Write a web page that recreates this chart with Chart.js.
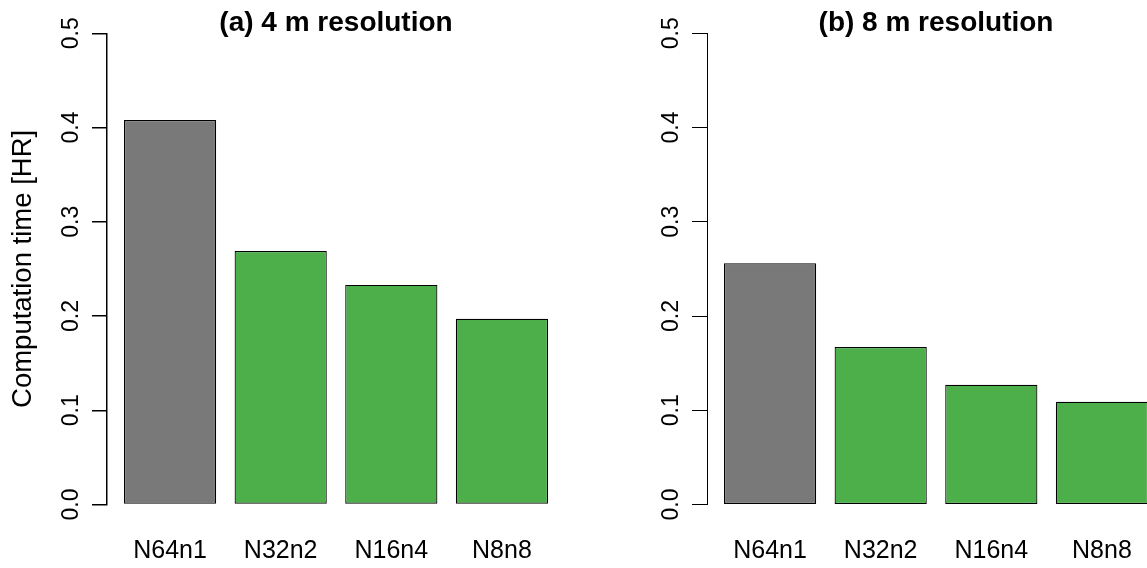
<!DOCTYPE html>
<html>
<head>
<meta charset="utf-8">
<script src="https://cdn.jsdelivr.net/npm/chart.js@4.4.1/dist/chart.umd.min.js"></script>
<style>
  html, body { margin: 0; padding: 0; background: #fff; overflow: hidden; width: 1147px; height: 568px; }
  #wrap { position: relative; width: 1147px; height: 568px; overflow: hidden; }
  canvas { position: absolute; top: 0; }
  #panelA { left: 0; }
  #panelB { left: 600px; }
</style>
</head>
<body>
<div id="wrap">
  <canvas id="panelA" width="565" height="568"></canvas>
  <canvas id="panelB" width="565" height="568"></canvas>
</div>
<script>
// Run configurations (nodes x processes per node)
const categories = ['N64n1', 'N32n2', 'N16n4', 'N8n8'];
// Computation time in hours
const time4m = [0.408, 0.269, 0.233, 0.197];
const time8m = [0.256, 0.167, 0.127, 0.109];
// Y axis tick values
const yTicks = [0.0, 0.1, 0.2, 0.3, 0.4, 0.5];
// Bar fills: baseline run in grey, the others in green
const barColors = ['#797979', '#4daf4a', '#4daf4a', '#4daf4a'];

const FONT = '"Liberation Sans", Arial, Helvetica, sans-serif';

// Bars of width 1 separated by 0.2, centres at 0.7, 1.9, 3.1, 4.3
const slot = i => 0.7 + 1.2 * i;
const slots = categories.map((_, i) => slot(i));
const xMin = 0.2 - 0.04 * 4.6;
const xMax = 4.8 + 0.04 * 4.6;

// Tick labels on the y axis drawn parallel to the axis
const rotatedYTicks = {
  id: 'rotatedYTicks',
  afterDraw(chart) {
    const ys = chart.scales.y;
    const ctx = chart.ctx;
    ctx.save();
    ctx.font = '23px ' + FONT;
    ctx.fillStyle = '#000';
    ctx.textAlign = 'center';
    ctx.textBaseline = 'alphabetic';
    ys.ticks.forEach(t => {
      const py = ys.getPixelForValue(t.value);
      ctx.save();
      ctx.translate(ys.right - 29.5, py);
      ctx.rotate(-Math.PI / 2);
      ctx.fillText(t.value.toFixed(1), 0, 0);
      ctx.restore();
    });
    ctx.restore();
  }
};

// Panel heading centred over the plotting region
const panelTitle = {
  id: 'panelTitle',
  afterDraw(chart, args, opts) {
    const { ctx, chartArea } = chart;
    ctx.save();
    ctx.font = 'bold 28px ' + FONT;
    ctx.fillStyle = '#000';
    ctx.textAlign = 'center';
    ctx.textBaseline = 'middle';
    ctx.fillText(opts.text, (chartArea.left + chartArea.right) / 2, 23.5);
    ctx.restore();
  }
};

function makePanel(canvasId, title, values, showYTitle, axisWidth) {
  return new Chart(document.getElementById(canvasId), {
    type: 'bar',
    data: {
      datasets: [{
        data: values.map((v, i) => ({ x: slots[i], y: v })),
        backgroundColor: barColors,
        borderColor: '#000',
        borderWidth: 1.2,
        borderSkipped: false,
        categoryPercentage: 1,
        barPercentage: 1 / 1.2
      }]
    },
    options: {
      responsive: false,
      animation: false,
      events: [],
      layout: { padding: { top: 33.3, left: 0, right: 0, bottom: 0 } },
      plugins: {
        legend: { display: false },
        tooltip: { enabled: false },
        title: { display: false },
        panelTitle: { text: title }
      },
      scales: {
        x: {
          type: 'linear',
          min: xMin,
          max: xMax,
          offset: false,
          grid: { display: false, offset: false },
          border: { display: false },
          afterBuildTicks: s => { s.ticks = slots.map(v => ({ value: v })); },
          afterFit: s => { s.height = 63.5; },
          ticks: {
            autoSkip: false,
            maxRotation: 0,
            padding: 23.5,
            color: '#000',
            font: { family: FONT, size: 25 },
            callback: (v, i) => categories[i]
          }
        },
        y: {
          min: 0,
          max: 0.5,
          afterBuildTicks: s => { s.ticks = yTicks.map(v => ({ value: v })); },
          afterFit: s => { s.width = 107; },
          grid: {
            display: true,
            drawOnChartArea: false,
            drawTicks: true,
            tickLength: 15,
            color: '#000',
            lineWidth: axisWidth
          },
          border: { display: true, color: '#000', width: axisWidth },
          ticks: { display: false },
          title: {
            display: showYTitle,
            text: 'Computation time [HR]',
            color: '#000',
            font: { family: FONT, size: 27.5 },
            padding: { top: 7, bottom: 0 }
          }
        }
      }
    },
    plugins: [rotatedYTicks, panelTitle]
  });
}

makePanel('panelA', '(a) 4 m resolution', time4m, true, 1.5);
makePanel('panelB', '(b) 8 m resolution', time8m, false, 1);
</script>
</body>
</html>
